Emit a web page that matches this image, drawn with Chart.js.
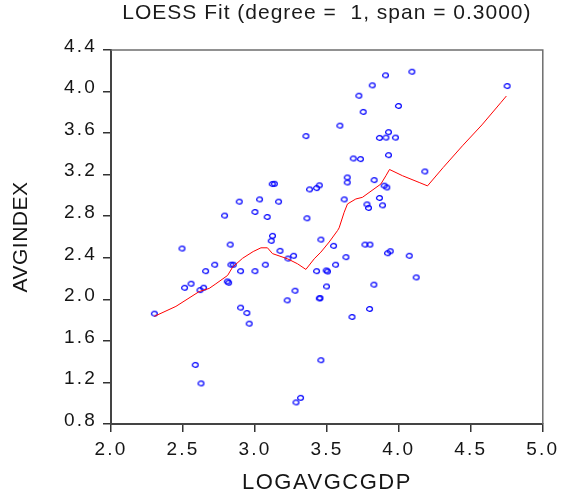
<!DOCTYPE html>
<html lang="en">
<head>
    <meta charset="UTF-8">
    <title>LOESS Fit</title>
    <script src="https://cdn.jsdelivr.net/npm/chart.js"></script>
    <style>
        html, body {
            margin: 0;
            padding: 0;
            background: #ffffff;
        }
        #wrap {
            width: 562px;
            height: 500px;
        }
    </style>
</head>
<body>
    <div id="wrap">
        <canvas id="loessChart" width="562" height="500"></canvas>
    </div>

    <script>
        // observations: LOGAVGCGDP (x) and AVGINDEX (y)
        const logAvgCgdp = [
            3.354, 3.120, 3.135, 3.379, 3.428, 3.447, 2.891, 3.032, 3.164, 2.789,
            3.000, 3.085, 3.361, 4.090, 3.907, 3.815, 3.722, 4.752, 3.997, 3.752,
            3.590, 3.928, 3.865, 3.910, 3.976, 3.928, 3.683, 3.733, 4.180, 3.641,
            3.641, 3.828, 3.898, 3.916, 3.620, 3.865, 3.778, 3.789, 3.886, 2.301,
            2.493, 2.511, 2.556, 2.618, 2.643, 2.657, 2.720, 2.828, 2.833, 2.849,
            2.808, 2.817, 2.900, 2.900, 2.944, 2.960, 3.000, 3.072, 3.122, 3.113,
            3.174, 3.229, 3.268, 2.585, 2.625, 3.278, 3.224, 3.285, 3.317, 3.458,
            3.428, 3.495, 3.497, 3.447, 3.452, 3.458, 3.546, 3.764, 3.799, 3.921,
            3.940, 4.072, 3.632, 3.560, 3.504, 4.120, 3.826, 3.796, 3.674
        ];
        const avgIndex = [
            3.571, 3.110, 3.112, 3.058, 3.071, 3.097, 2.940, 2.962, 2.940, 2.806,
            2.841, 2.793, 2.780, 4.191, 4.156, 4.060, 3.960, 4.053, 3.861, 3.804,
            3.672, 3.609, 3.554, 3.557, 3.557, 3.388, 3.356, 3.350, 3.231, 3.173,
            3.125, 3.148, 3.094, 3.077, 2.962, 2.976, 2.914, 2.880, 2.905, 1.862,
            2.489, 2.111, 2.150, 2.089, 2.112, 2.271, 2.333, 2.527, 2.333, 2.333,
            2.172, 2.160, 2.271, 1.920, 1.868, 1.766, 2.271, 2.333, 2.611, 2.563,
            2.467, 2.393, 2.419, 1.369, 1.191, 2.083, 1.990, 1.008, 1.052, 2.575,
            2.271, 2.278, 2.124, 2.009, 2.012, 1.414, 2.515, 2.527, 2.527, 2.444,
            2.463, 2.419, 2.406, 2.333, 2.268, 2.211, 2.141, 1.907, 1.830
        ];

        // fitted LOESS curve
        const fitX = [
            2.301, 2.451, 2.613, 2.682, 2.729, 2.810, 2.845, 2.914, 2.988, 3.042,
            3.087, 3.122, 3.227, 3.296, 3.354, 3.412, 3.458, 3.516, 3.574, 3.585,
            3.620, 3.643, 3.701, 3.747, 3.875, 3.910, 3.935, 4.025, 4.141, 4.199,
            4.308, 4.442, 4.577, 4.708, 4.747
        ];
        const fitY = [
            1.836, 1.932, 2.075, 2.105, 2.150, 2.230, 2.310, 2.395, 2.460, 2.496,
            2.496, 2.440, 2.390, 2.342, 2.288, 2.390, 2.454, 2.552, 2.662, 2.688,
            2.838, 2.918, 2.966, 2.982, 3.110, 3.190, 3.250, 3.190, 3.125, 3.092,
            3.269, 3.478, 3.679, 3.893, 3.957
        ];

        const xTicks = [2.0, 2.5, 3.0, 3.5, 4.0, 4.5, 5.0];
        const yTicks = [0.8, 1.2, 1.6, 2.0, 2.4, 2.8, 3.2, 3.6, 4.0, 4.4];

        const fontFamily = '"Liberation Sans", Arial, sans-serif';

        // small open ellipse used as the marker
        function makeMarker() {
            const c = document.createElement('canvas');
            c.width = 9;
            c.height = 8;
            const g = c.getContext('2d');
            g.strokeStyle = '#0000ff';
            g.lineWidth = 1.2;
            g.beginPath();
            g.ellipse(4.5, 4, 2.9, 2.3, 0, 0, Math.PI * 2);
            g.stroke();
            return c;
        }
        const marker = makeMarker();

        const points = logAvgCgdp.map((x, i) => ({ x: x, y: avgIndex[i] }));
        const fit = fitX.map((x, i) => ({ x: x, y: fitY[i] }));

        // wrap a draw method so its text uses the given letter spacing
        function withSpacing(fn, spacing) {
            return function () {
                const ctx = this.ctx;
                const prev = ctx.letterSpacing;
                ctx.letterSpacing = spacing;
                fn.apply(this, arguments);
                ctx.letterSpacing = prev;
            };
        }

        function spaceScale(labelSpacing, titleSpacing) {
            return function (s) {
                if (s._spaced) return;
                s.drawLabels = withSpacing(s.drawLabels, labelSpacing);
                s.drawTitle = withSpacing(s.drawTitle, titleSpacing);
                s._spaced = true;
            };
        }

        // top and right edges of the plot frame, plus spacing for the title
        const framePlugin = {
            id: 'frame',
            beforeDraw(chart) {
                chart.ctx.letterSpacing = '1px';
            },
            beforeDatasetsDraw(chart) {
                const a = chart.chartArea;
                const ctx = chart.ctx;
                ctx.save();
                ctx.strokeStyle = '#6e6e6e';
                ctx.lineWidth = 1.5;
                ctx.beginPath();
                ctx.moveTo(a.left, a.top);
                ctx.lineTo(a.right, a.top);
                ctx.lineTo(a.right, a.bottom);
                ctx.stroke();
                ctx.restore();
            }
        };

        new Chart(document.getElementById('loessChart'), {
            type: 'scatter',
            data: {
                datasets: [
                    {
                        label: 'LOESS',
                        type: 'line',
                        data: fit,
                        borderColor: '#ff0000',
                        borderWidth: 1,
                        pointRadius: 0,
                        fill: false,
                        tension: 0
                    },
                    {
                        label: 'AVGINDEX',
                        data: points,
                        pointStyle: marker,
                        pointRadius: 4
                    }
                ]
            },
            options: {
                responsive: false,
                animation: false,
                devicePixelRatio: 1,
                layout: {
                    padding: { top: 0, right: 17, bottom: 0, left: 0 }
                },
                plugins: {
                    legend: { display: false },
                    tooltip: { enabled: false },
                    title: {
                        display: true,
                        fullSize: false,
                        text: 'LOESS Fit (degree =  1, span = 0.3000)',
                        color: '#1a1a1a',
                        font: { family: fontFamily, size: 21, weight: 'normal' },
                        padding: { top: 1, bottom: 23.8 }
                    }
                },
                scales: {
                    x: {
                        type: 'linear',
                        min: 2,
                        max: 5,
                        afterBuildTicks: s => { s.ticks = xTicks.map(v => ({ value: v })); },
                        afterFit: s => { s.height = 76; },
                        afterUpdate: spaceScale('2.2px', '1.5px'),
                        ticks: {
                            color: '#151515',
                            font: { family: fontFamily, size: 19 },
                            padding: 6,
                            maxRotation: 0,
                            callback: v => v.toFixed(1)
                        },
                        grid: {
                            drawOnChartArea: false,
                            drawTicks: true,
                            tickLength: 8,
                            color: '#333333',
                            lineWidth: 1.5
                        },
                        border: { display: true, color: '#444444', width: 2 },
                        title: {
                            display: true,
                            text: 'LOGAVGCGDP',
                            color: '#151515',
                            font: { family: fontFamily, size: 22 },
                            padding: { top: 0, bottom: 4 }
                        }
                    },
                    y: {
                        type: 'linear',
                        min: 0.8,
                        max: 4.4,
                        afterBuildTicks: s => { s.ticks = yTicks.map(v => ({ value: v })); },
                        afterFit: s => { s.width = 111; },
                        afterUpdate: spaceScale('2.2px', '0.5px'),
                        ticks: {
                            color: '#151515',
                            font: { family: fontFamily, size: 19 },
                            padding: 6,
                            labelOffset: -3.5,
                            callback: v => v.toFixed(1)
                        },
                        grid: {
                            drawOnChartArea: false,
                            drawTicks: true,
                            tickLength: 8,
                            color: '#333333',
                            lineWidth: 1.5
                        },
                        border: { display: true, color: '#444444', width: 2 },
                        title: {
                            display: true,
                            text: 'AVGINDEX',
                            color: '#151515',
                            font: { family: fontFamily, size: 21 },
                            padding: { top: 9, bottom: 0 }
                        }
                    }
                }
            },
            plugins: [framePlugin]
        });
    </script>
</body>
</html>
